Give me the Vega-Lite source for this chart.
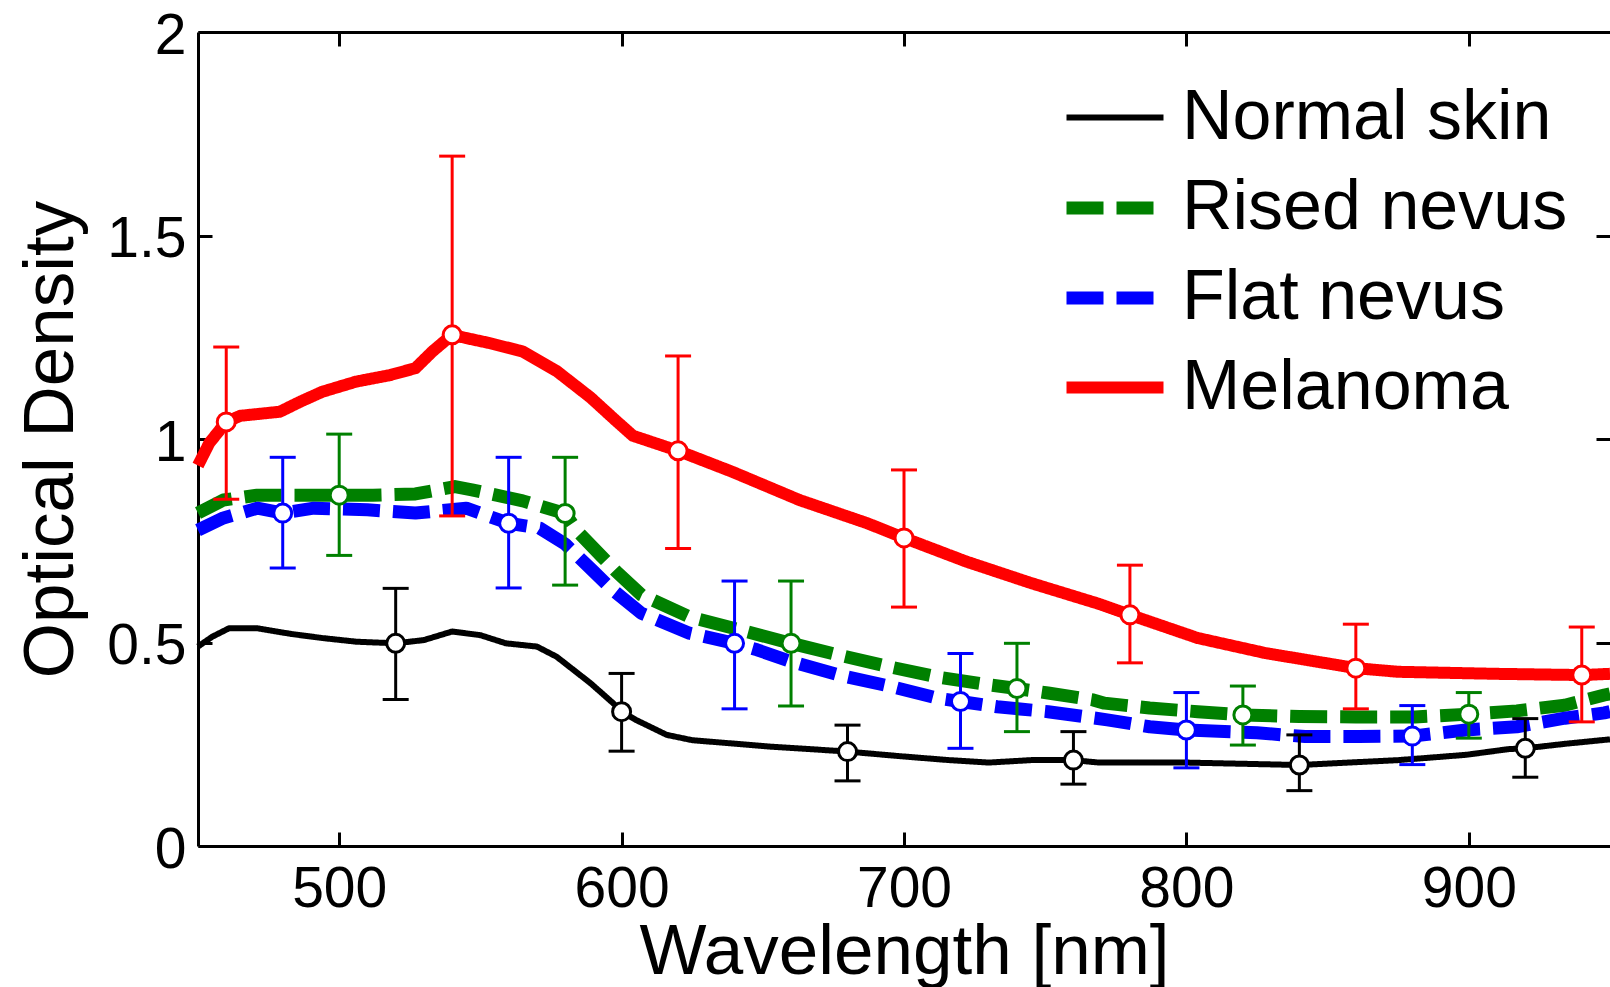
{
  "$schema": "https://vega.github.io/schema/vega-lite/v6.json",
  "width": 1412,
  "height": 814,
  "autosize": {"type": "none"},
  "padding": {"left": 198, "top": 32, "right": 0, "bottom": 141},
  "background": "white",
  "config": {"view": {"stroke": null}, "font": "Liberation Sans"},
  "datasets": {
    "curves": [
      {"series": "Normal skin", "wl": 450, "od": 0.49}, {"series": "Normal skin", "wl": 455, "od": 0.514}, {"series": "Normal skin", "wl": 461, "od": 0.535}, {"series": "Normal skin", "wl": 471, "od": 0.535}, {"series": "Normal skin", "wl": 483, "od": 0.521}, {"series": "Normal skin", "wl": 494, "od": 0.511}, {"series": "Normal skin", "wl": 506, "od": 0.502}, {"series": "Normal skin", "wl": 520, "od": 0.498}, {"series": "Normal skin", "wl": 530, "od": 0.506}, {"series": "Normal skin", "wl": 540, "od": 0.527}, {"series": "Normal skin", "wl": 550, "od": 0.518}, {"series": "Normal skin", "wl": 559, "od": 0.498}, {"series": "Normal skin", "wl": 570, "od": 0.49}, {"series": "Normal skin", "wl": 577, "od": 0.465}, {"series": "Normal skin", "wl": 589, "od": 0.4}, {"series": "Normal skin", "wl": 597, "od": 0.351}, {"series": "Normal skin", "wl": 600, "od": 0.33}, {"series": "Normal skin", "wl": 605, "od": 0.31}, {"series": "Normal skin", "wl": 616, "od": 0.273}, {"series": "Normal skin", "wl": 625, "od": 0.26}, {"series": "Normal skin", "wl": 639, "od": 0.252}, {"series": "Normal skin", "wl": 653, "od": 0.244}, {"series": "Normal skin", "wl": 669, "od": 0.237}, {"series": "Normal skin", "wl": 680, "od": 0.232}, {"series": "Normal skin", "wl": 698, "od": 0.221}, {"series": "Normal skin", "wl": 716, "od": 0.211}, {"series": "Normal skin", "wl": 730, "od": 0.205}, {"series": "Normal skin", "wl": 745, "od": 0.211}, {"series": "Normal skin", "wl": 760, "od": 0.211}, {"series": "Normal skin", "wl": 769, "od": 0.205}, {"series": "Normal skin", "wl": 800, "od": 0.205}, {"series": "Normal skin", "wl": 840, "od": 0.199}, {"series": "Normal skin", "wl": 875, "od": 0.211}, {"series": "Normal skin", "wl": 899, "od": 0.224}, {"series": "Normal skin", "wl": 914, "od": 0.238}, {"series": "Normal skin", "wl": 920, "od": 0.24}, {"series": "Normal skin", "wl": 934, "od": 0.251}, {"series": "Normal skin", "wl": 947, "od": 0.26}, {"series": "Normal skin", "wl": 950, "od": 0.262},
      {"series": "Rised nevus", "wl": 450, "od": 0.818}, {"series": "Rised nevus", "wl": 459, "od": 0.85}, {"series": "Rised nevus", "wl": 471, "od": 0.862}, {"series": "Rised nevus", "wl": 500, "od": 0.862}, {"series": "Rised nevus", "wl": 512, "od": 0.862}, {"series": "Rised nevus", "wl": 527, "od": 0.865}, {"series": "Rised nevus", "wl": 541, "od": 0.883}, {"series": "Rised nevus", "wl": 547, "od": 0.875}, {"series": "Rised nevus", "wl": 565, "od": 0.848}, {"series": "Rised nevus", "wl": 580, "od": 0.817}, {"series": "Rised nevus", "wl": 584, "od": 0.776}, {"series": "Rised nevus", "wl": 593, "od": 0.711}, {"series": "Rised nevus", "wl": 598, "od": 0.675}, {"series": "Rised nevus", "wl": 607, "od": 0.617}, {"series": "Rised nevus", "wl": 624, "od": 0.563}, {"series": "Rised nevus", "wl": 642, "od": 0.531}, {"series": "Rised nevus", "wl": 660, "od": 0.498}, {"series": "Rised nevus", "wl": 677, "od": 0.469}, {"series": "Rised nevus", "wl": 695, "od": 0.44}, {"series": "Rised nevus", "wl": 712, "od": 0.415}, {"series": "Rised nevus", "wl": 730, "od": 0.396}, {"series": "Rised nevus", "wl": 740, "od": 0.387}, {"series": "Rised nevus", "wl": 751, "od": 0.376}, {"series": "Rised nevus", "wl": 767, "od": 0.359}, {"series": "Rised nevus", "wl": 771, "od": 0.351}, {"series": "Rised nevus", "wl": 787, "od": 0.339}, {"series": "Rised nevus", "wl": 804, "od": 0.33}, {"series": "Rised nevus", "wl": 820, "od": 0.322}, {"series": "Rised nevus", "wl": 840, "od": 0.318}, {"series": "Rised nevus", "wl": 860, "od": 0.317}, {"series": "Rised nevus", "wl": 881, "od": 0.317}, {"series": "Rised nevus", "wl": 900, "od": 0.324}, {"series": "Rised nevus", "wl": 917, "od": 0.332}, {"series": "Rised nevus", "wl": 934, "od": 0.346}, {"series": "Rised nevus", "wl": 948, "od": 0.371}, {"series": "Rised nevus", "wl": 950, "od": 0.374},
      {"series": "Flat nevus", "wl": 450, "od": 0.776}, {"series": "Flat nevus", "wl": 459, "od": 0.806}, {"series": "Flat nevus", "wl": 471, "od": 0.83}, {"series": "Flat nevus", "wl": 480, "od": 0.818}, {"series": "Flat nevus", "wl": 491, "od": 0.83}, {"series": "Flat nevus", "wl": 510, "od": 0.826}, {"series": "Flat nevus", "wl": 527, "od": 0.818}, {"series": "Flat nevus", "wl": 545, "od": 0.83}, {"series": "Flat nevus", "wl": 560, "od": 0.793}, {"series": "Flat nevus", "wl": 571, "od": 0.781}, {"series": "Flat nevus", "wl": 580, "od": 0.742}, {"series": "Flat nevus", "wl": 590, "od": 0.675}, {"series": "Flat nevus", "wl": 596, "od": 0.634}, {"series": "Flat nevus", "wl": 607, "od": 0.572}, {"series": "Flat nevus", "wl": 624, "od": 0.523}, {"series": "Flat nevus", "wl": 640, "od": 0.498}, {"series": "Flat nevus", "wl": 648, "od": 0.482}, {"series": "Flat nevus", "wl": 660, "od": 0.453}, {"series": "Flat nevus", "wl": 677, "od": 0.42}, {"series": "Flat nevus", "wl": 696, "od": 0.391}, {"series": "Flat nevus", "wl": 712, "od": 0.363}, {"series": "Flat nevus", "wl": 720, "od": 0.355}, {"series": "Flat nevus", "wl": 733, "od": 0.342}, {"series": "Flat nevus", "wl": 751, "od": 0.33}, {"series": "Flat nevus", "wl": 768, "od": 0.314}, {"series": "Flat nevus", "wl": 772, "od": 0.31}, {"series": "Flat nevus", "wl": 787, "od": 0.293}, {"series": "Flat nevus", "wl": 800, "od": 0.285}, {"series": "Flat nevus", "wl": 825, "od": 0.278}, {"series": "Flat nevus", "wl": 842, "od": 0.269}, {"series": "Flat nevus", "wl": 861, "od": 0.269}, {"series": "Flat nevus", "wl": 880, "od": 0.27}, {"series": "Flat nevus", "wl": 899, "od": 0.285}, {"series": "Flat nevus", "wl": 917, "od": 0.293}, {"series": "Flat nevus", "wl": 934, "od": 0.314}, {"series": "Flat nevus", "wl": 948, "od": 0.327}, {"series": "Flat nevus", "wl": 950, "od": 0.33},
      {"series": "Melanoma", "wl": 450, "od": 0.935}, {"series": "Melanoma", "wl": 454, "od": 0.99}, {"series": "Melanoma", "wl": 460, "od": 1.042}, {"series": "Melanoma", "wl": 465, "od": 1.057}, {"series": "Melanoma", "wl": 479, "od": 1.067}, {"series": "Melanoma", "wl": 486, "od": 1.091}, {"series": "Melanoma", "wl": 494, "od": 1.116}, {"series": "Melanoma", "wl": 506, "od": 1.141}, {"series": "Melanoma", "wl": 518, "od": 1.157}, {"series": "Melanoma", "wl": 527, "od": 1.174}, {"series": "Melanoma", "wl": 533, "od": 1.215}, {"series": "Melanoma", "wl": 540, "od": 1.256}, {"series": "Melanoma", "wl": 545, "od": 1.248}, {"series": "Melanoma", "wl": 553, "od": 1.236}, {"series": "Melanoma", "wl": 565, "od": 1.215}, {"series": "Melanoma", "wl": 577, "od": 1.167}, {"series": "Melanoma", "wl": 589, "od": 1.102}, {"series": "Melanoma", "wl": 598, "od": 1.045}, {"series": "Melanoma", "wl": 604, "od": 1.008}, {"series": "Melanoma", "wl": 620, "od": 0.971}, {"series": "Melanoma", "wl": 639, "od": 0.92}, {"series": "Melanoma", "wl": 663, "od": 0.85}, {"series": "Melanoma", "wl": 687, "od": 0.793}, {"series": "Melanoma", "wl": 700, "od": 0.757}, {"series": "Melanoma", "wl": 722, "od": 0.699}, {"series": "Melanoma", "wl": 745, "od": 0.646}, {"series": "Melanoma", "wl": 769, "od": 0.595}, {"series": "Melanoma", "wl": 780, "od": 0.568}, {"series": "Melanoma", "wl": 804, "od": 0.511}, {"series": "Melanoma", "wl": 828, "od": 0.474}, {"series": "Melanoma", "wl": 860, "od": 0.437}, {"series": "Melanoma", "wl": 875, "od": 0.428}, {"series": "Melanoma", "wl": 910, "od": 0.423}, {"series": "Melanoma", "wl": 940, "od": 0.42}, {"series": "Melanoma", "wl": 950, "od": 0.423}
    ],
    "markers": [
      {"series": "Normal skin", "wl": 520, "od": 0.498, "lo": 0.36, "hi": 0.633}, {"series": "Normal skin", "wl": 600, "od": 0.33, "lo": 0.233, "hi": 0.424}, {"series": "Normal skin", "wl": 680, "od": 0.232, "lo": 0.16, "hi": 0.297}, {"series": "Normal skin", "wl": 760, "od": 0.211, "lo": 0.152, "hi": 0.281}, {"series": "Normal skin", "wl": 840, "od": 0.199, "lo": 0.136, "hi": 0.273}, {"series": "Normal skin", "wl": 920, "od": 0.24, "lo": 0.169, "hi": 0.313},
      {"series": "Rised nevus", "wl": 500, "od": 0.862, "lo": 0.714, "hi": 1.012}, {"series": "Rised nevus", "wl": 580, "od": 0.817, "lo": 0.641, "hi": 0.955}, {"series": "Rised nevus", "wl": 660, "od": 0.498, "lo": 0.344, "hi": 0.651}, {"series": "Rised nevus", "wl": 740, "od": 0.387, "lo": 0.281, "hi": 0.498}, {"series": "Rised nevus", "wl": 820, "od": 0.322, "lo": 0.248, "hi": 0.393}, {"series": "Rised nevus", "wl": 900, "od": 0.324, "lo": 0.265, "hi": 0.377},
      {"series": "Flat nevus", "wl": 480, "od": 0.818, "lo": 0.683, "hi": 0.955}, {"series": "Flat nevus", "wl": 560, "od": 0.793, "lo": 0.634, "hi": 0.955}, {"series": "Flat nevus", "wl": 640, "od": 0.498, "lo": 0.337, "hi": 0.651}, {"series": "Flat nevus", "wl": 720, "od": 0.355, "lo": 0.24, "hi": 0.473}, {"series": "Flat nevus", "wl": 800, "od": 0.285, "lo": 0.192, "hi": 0.377}, {"series": "Flat nevus", "wl": 880, "od": 0.27, "lo": 0.2, "hi": 0.345},
      {"series": "Melanoma", "wl": 460, "od": 1.042, "lo": 0.852, "hi": 1.226}, {"series": "Melanoma", "wl": 540, "od": 1.256, "lo": 0.811, "hi": 1.695}, {"series": "Melanoma", "wl": 620, "od": 0.971, "lo": 0.731, "hi": 1.204}, {"series": "Melanoma", "wl": 700, "od": 0.757, "lo": 0.587, "hi": 0.924}, {"series": "Melanoma", "wl": 780, "od": 0.568, "lo": 0.45, "hi": 0.69}, {"series": "Melanoma", "wl": 860, "od": 0.437, "lo": 0.337, "hi": 0.545}, {"series": "Melanoma", "wl": 940, "od": 0.42, "lo": 0.305, "hi": 0.538}
    ]
  },
  "resolve": {"axis": {"x": "independent", "y": "independent"}},
  "layer": [
    {
      "data": {"name": "curves"},
      "mark": {"type": "line", "strokeJoin": "round", "strokeCap": "butt"},
      "encoding": {
        "x": {"field": "wl", "type": "quantitative", "scale": {"domain": [450, 950], "nice": false, "zero": false},
          "axis": {"orient": "bottom", "values": [500, 600, 700, 800, 900], "format": "d", "title": "Wavelength [nm]", "grid": false,
            "domainColor": "black", "domainWidth": 3, "tickColor": "black", "tickWidth": 3, "tickSize": -14,
            "labelFontSize": 57, "labelFont": "Liberation Sans", "labelColor": "black", "labelBaseline": "alphabetic", "labelPadding": 74, "labelFlush": false, "labelOverlap": false,
            "titleFontSize": 71, "titleFont": "Liberation Sans", "titleFontWeight": "normal", "titleColor": "black", "titleBaseline": "alphabetic", "titleX": 706, "titleY": 127}},
        "y": {"field": "od", "type": "quantitative", "scale": {"domain": [0, 2], "nice": false, "zero": false},
          "axis": {"orient": "left", "values": [0, 0.5, 1, 1.5, 2], "format": "~g", "title": "Optical Density", "grid": false,
            "domainColor": "black", "domainWidth": 3, "tickColor": "black", "tickWidth": 3, "tickSize": -14,
            "labelFontSize": 57, "labelFont": "Liberation Sans", "labelColor": "black", "labelAlign": "right", "labelBaseline": "alphabetic", "labelOffset": 21, "labelPadding": 26, "labelFlush": false, "labelOverlap": false,
            "titleFontSize": 71, "titleFont": "Liberation Sans", "titleFontWeight": "normal", "titleColor": "black", "titleBaseline": "alphabetic", "titleAngle": -90, "titleX": -126, "titleY": 407}},
        "color": {"field": "series", "type": "nominal",
          "scale": {"domain": ["Normal skin", "Rised nevus", "Flat nevus", "Melanoma"], "range": ["#000000", "#008000", "#0000ff", "#ff0000"]},
          "legend": {"orient": "none", "legendX": 862, "legendY": 34, "title": null, "labelFontSize": 70, "labelFont": "Liberation Sans", "labelColor": "black", "symbolSize": 9409, "symbolType": "stroke", "labelOffset": 12, "rowPadding": -1, "padding": 0, "labelLimit": 1000}},
        "strokeDash": {"field": "series", "type": "nominal",
          "scale": {"domain": ["Normal skin", "Rised nevus", "Flat nevus", "Melanoma"], "range": [[1, 0], [37, 13], [37, 13], [1, 0]]},
          "legend": {"orient": "none", "legendX": 862, "legendY": 34, "title": null, "labelFontSize": 70, "labelFont": "Liberation Sans", "labelColor": "black", "symbolSize": 9409, "symbolType": "stroke", "labelOffset": 12, "rowPadding": -1, "padding": 0, "labelLimit": 1000}},
        "strokeWidth": {"field": "series", "type": "nominal",
          "scale": {"type": "ordinal", "domain": ["Normal skin", "Rised nevus", "Flat nevus", "Melanoma"], "range": [6, 13, 13, 12]},
          "legend": {"orient": "none", "legendX": 862, "legendY": 34, "title": null, "labelFontSize": 70, "labelFont": "Liberation Sans", "labelColor": "black", "symbolSize": 9409, "symbolType": "stroke", "labelOffset": 12, "rowPadding": -1, "padding": 0, "labelLimit": 1000}}
      }
    },
    {
      "data": {"name": "markers"},
      "mark": {"type": "rule", "strokeWidth": 3},
      "encoding": {
        "x": {"field": "wl", "type": "quantitative",
          "axis": {"orient": "top", "values": [500, 600, 700, 800, 900], "labels": false, "title": null, "grid": false,
            "domainColor": "black", "domainWidth": 3, "tickColor": "black", "tickWidth": 3, "tickSize": -14}},
        "y": {"field": "lo", "type": "quantitative",
          "axis": {"orient": "right", "values": [0, 0.5, 1, 1.5, 2], "labels": false, "title": null, "grid": false,
            "domain": false, "tickColor": "black", "tickWidth": 3, "tickSize": -14}},
        "y2": {"field": "hi"},
        "stroke": {"field": "series", "type": "nominal",
          "scale": {"domain": ["Normal skin", "Rised nevus", "Flat nevus", "Melanoma"], "range": ["#000000", "#008000", "#0000ff", "#ff0000"]}, "legend": null}
      }
    },
    {
      "data": {"name": "markers"},
      "mark": {"type": "point", "shape": "M-1,0L1,0", "size": 676, "filled": false, "strokeWidth": 3, "opacity": 1},
      "encoding": {
        "x": {"field": "wl", "type": "quantitative", "axis": null},
        "y": {"field": "lo", "type": "quantitative", "axis": null},
        "stroke": {"field": "series", "type": "nominal", "legend": null}
      }
    },
    {
      "data": {"name": "markers"},
      "mark": {"type": "point", "shape": "M-1,0L1,0", "size": 676, "filled": false, "strokeWidth": 3, "opacity": 1},
      "encoding": {
        "x": {"field": "wl", "type": "quantitative", "axis": null},
        "y": {"field": "hi", "type": "quantitative", "axis": null},
        "stroke": {"field": "series", "type": "nominal", "legend": null}
      }
    },
    {
      "data": {"name": "markers"},
      "mark": {"type": "point", "shape": "circle", "size": 324, "filled": false, "fill": "white", "strokeWidth": 3, "opacity": 1},
      "encoding": {
        "x": {"field": "wl", "type": "quantitative", "axis": null},
        "y": {"field": "od", "type": "quantitative", "axis": null},
        "stroke": {"field": "series", "type": "nominal", "legend": null}
      }
    }
  ]
}
